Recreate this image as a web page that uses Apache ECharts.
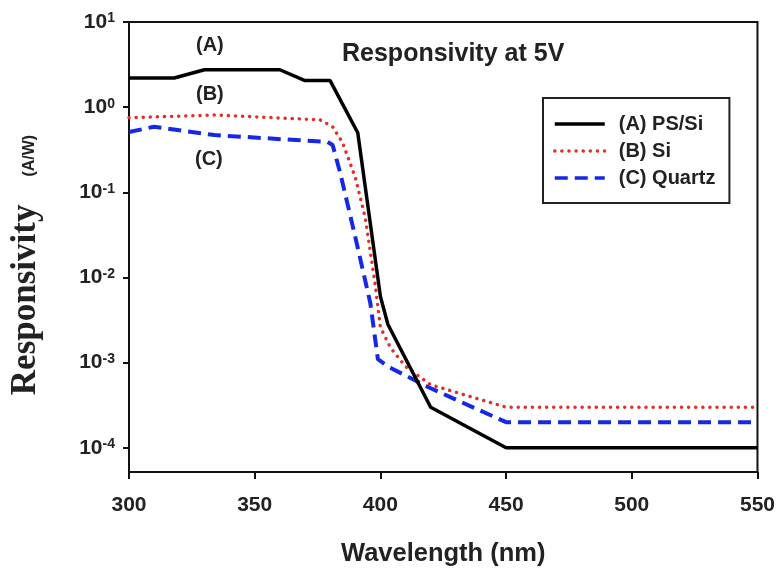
<!DOCTYPE html>
<html>
<head>
<meta charset="utf-8">
<script src="https://cdn.jsdelivr.net/npm/echarts@6/dist/echarts.min.js"></script>
<style>
html, body { margin: 0; padding: 0; background: #fff; }
#chart { width: 778px; height: 574px; }
</style>
</head>
<body>
<div id="chart"></div>
<script>
// 数据 (wavelength nm, responsivity A/W)
var seriesNames = ['(A) PS/Si', '(B) Si', '(C) Quartz']
var psSi = [[300, 2.2], [318, 2.2], [330, 2.75], [360, 2.75], [370, 2.05], [380, 2.05], [391, 0.5], [400, 0.006], [403, 0.0028], [420, 0.0003], [450, 0.0001], [550, 0.0001]]
var si = [[300, 0.75], [334, 0.81], [376, 0.71], [381, 0.59], [385, 0.38], [390, 0.15], [394, 0.05], [398, 0.008], [400, 0.0026], [404, 0.0015], [410, 0.0009], [420, 0.00055], [450, 0.0003], [550, 0.0003]]
var quartz = [[300, 0.51], [310, 0.59], [334, 0.47], [379, 0.39], [381, 0.36], [384, 0.17], [390, 0.03], [396, 0.005], [399, 0.0011], [403, 0.0009], [420, 0.0005], [450, 0.0002], [550, 0.0002]]
var xTicks = [300, 350, 400, 450, 500, 550]
var yExponents = [-4, -3, -2, -1, 0, 1]

var sans = 'Liberation Sans, Arial, sans-serif'
var textColor = '#222'

var chart = echarts.init(document.getElementById('chart'))
var option = {
    animation: false,
    title: {
        text: 'Responsivity at 5V',
        left: 337,
        top: 37,
        textStyle: { fontFamily: sans, fontSize: 25, fontWeight: 'bold', color: textColor }
    },
    legend: {
        orient: 'vertical',
        left: 543,
        top: 98,
        padding: [16, 14, 15, 10],
        borderColor: '#222',
        borderWidth: 2,
        itemWidth: 50,
        itemHeight: 20,
        itemGap: 7,
        itemStyle: { opacity: 0 },
        lineStyle: { width: 3.5 },
        data: seriesNames,
        textStyle: { fontFamily: sans, fontSize: 20, fontWeight: 'bold', color: textColor, padding: [0, 0, 0, 9] }
    },
    grid: {
        left: 128,
        right: 20,
        top: 22,
        bottom: 102,
        show: true,
        borderColor: '#111',
        borderWidth: 2
    },
    xAxis: {
        type: 'value',
        min: xTicks[0],
        max: xTicks[xTicks.length - 1],
        interval: 50,
        name: 'Wavelength (nm)',
        nameLocation: 'middle',
        nameGap: 69,
        nameTextStyle: { fontFamily: sans, fontSize: 25.5, fontWeight: 'bold', color: textColor },
        axisLine: { lineStyle: { color: '#111', width: 2 } },
        axisTick: { length: 7, lineStyle: { color: '#111', width: 2 } },
        axisLabel: { margin: 23, fontFamily: sans, fontSize: 21, fontWeight: 'bold', color: textColor },
        splitLine: { show: false }
    },
    yAxis: {
        type: 'log',
        logBase: 10,
        min: 5.2e-5,
        max: Math.pow(10, yExponents[yExponents.length - 1]),
        name: '{t|Responsivity}{u|(A/W)}',
        nameLocation: 'middle',
        nameGap: 86,
        nameTextStyle: {
            padding: [0, 36, 0, 0],
            rich: {
                t: { fontFamily: 'Liberation Serif, Times New Roman, serif', fontSize: 35, fontWeight: 'bold', color: textColor, verticalAlign: 'bottom' },
                u: { fontFamily: sans, fontSize: 16, fontWeight: 'bold', color: textColor, verticalAlign: 'bottom', padding: [0, 0, 5, 28] }
            }
        },
        axisLine: { lineStyle: { color: '#111', width: 2 } },
        axisTick: {
            length: 6,
            lineStyle: { color: '#111', width: 2 },
            customValues: yExponents.map(function (e) { return Math.pow(10, e) })
        },
        axisLabel: {
            margin: 14,
            formatter: function (v) {
                var e = Math.log10(v)
                var r = Math.round(e)
                if (Math.abs(e - r) > 0.01 || yExponents.indexOf(r) < 0) return ''
                return '{b|10}{s|' + r + '}'
            },
            rich: {
                b: { fontFamily: sans, fontSize: 21, fontWeight: 'bold', color: textColor },
                s: { fontFamily: sans, fontSize: 14, fontWeight: 'bold', color: textColor, verticalAlign: 'top' }
            }
        },
        splitLine: { show: false }
    },
    graphic: [
        { type: 'text', left: 196, top: 35, style: { text: '(A)', font: 'bold 20px ' + sans, fill: textColor } },
        { type: 'text', left: 196, top: 84, style: { text: '(B)', font: 'bold 20px ' + sans, fill: textColor } },
        { type: 'text', left: 195, top: 149, style: { text: '(C)', font: 'bold 20px ' + sans, fill: textColor } }
    ],
    series: [{
        name: seriesNames[0],
        type: 'line',
        symbol: 'none',
        data: psSi,
        lineStyle: { color: '#000', width: 3.5 },
        itemStyle: { color: '#000' },
        z: 3
    }, {
        name: seriesNames[1],
        type: 'line',
        symbol: 'none',
        data: si,
        lineStyle: { color: '#e0302c', width: 3.5, type: [0.1, 7], cap: 'round' },
        itemStyle: { color: '#e0302c' },
        z: 2
    }, {
        name: seriesNames[2],
        type: 'line',
        symbol: 'none',
        data: quartz,
        lineStyle: { color: '#1428e6', width: 4, type: [13, 7] },
        itemStyle: { color: '#1428e6' },
        z: 1
    }]
}
chart.setOption(option)
</script>
</body>
</html>
